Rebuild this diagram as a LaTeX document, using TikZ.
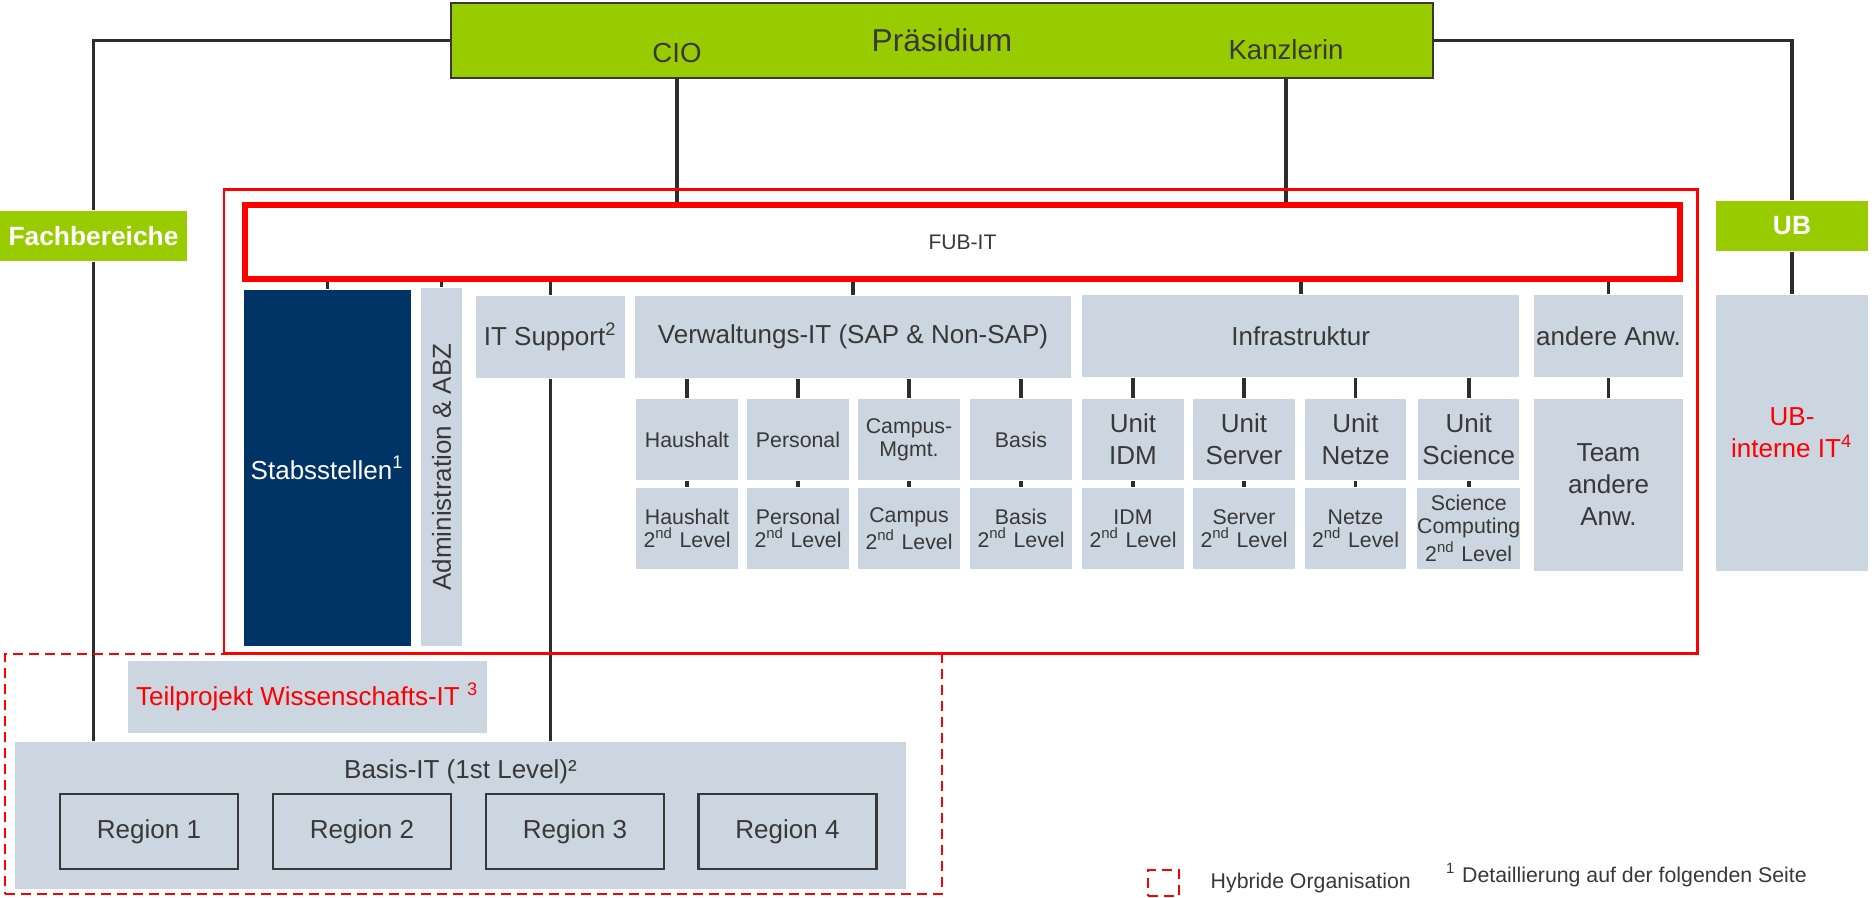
\documentclass[tikz,border=0pt]{standalone}
\usepackage{fontspec}
\setmainfont{Liberation Sans}
\usetikzlibrary{backgrounds}

\definecolor{fugreen}{RGB}{153,204,0}
\definecolor{funavy}{RGB}{0,51,102}
\definecolor{fugray}{RGB}{204,214,224}
\definecolor{futext}{RGB}{56,56,56}
\definecolor{fuline}{RGB}{45,45,45}

\begin{document}
\begin{tikzpicture}
    \tikzstyle{edge}=[draw=fuline,line width=1.1pt,-]
    \tikzstyle{box}=[rectangle,fill=fugray,text=futext,inner sep=0pt,align=center,font=\fontsize{7.4}{9.1}\selectfont]
    \tikzstyle{subbox}=[box,minimum width=1.015cm,minimum height=0.81cm,font=\fontsize{6.06}{6.6}\selectfont]
    \tikzstyle{unitbox}=[box,minimum width=1.015cm,minimum height=0.81cm]
    \tikzstyle{greenbox}=[rectangle,fill=fugreen,text=white,inner sep=0pt,font=\fontsize{7.5}{9}\selectfont\bfseries]
    \tikzstyle{regionbox}=[box,draw=futext,line width=0.6pt,minimum width=1.78cm,minimum height=0.75cm]
    \tikzstyle{redframe}=[rectangle,draw=red,inner sep=0pt]
    \tikzstyle{hybridframe}=[redframe,line width=0.6pt,dash pattern=on 0.1cm off 0.06cm]
    \tikzstyle{label}=[inner sep=0pt,text=futext,font=\fontsize{6.06}{7}\selectfont]

    \useasboundingbox (0,0) rectangle (18.74,-8.97);

    % top level
    \node[greenbox,draw=futext,line width=0.5pt,text=futext,font=\fontsize{9}{11}\selectfont,
          minimum width=9.82cm,minimum height=0.75cm] (pres) at (9.42,-0.405) {Präsidium};
    \node[anchor=base,inner sep=0pt,text=futext,font=\fontsize{7.85}{9}\selectfont] (cio)  at (6.77,-0.62) {CIO};
    \node[anchor=base,inner sep=0pt,text=futext,font=\fontsize{7.85}{9}\selectfont] (kanz) at (12.86,-0.59) {Kanzlerin};

    \node[greenbox,minimum width=1.87cm,minimum height=0.5cm] (fach) at (0.935,-2.36) {Fachbereiche};
    \node[greenbox,minimum width=1.52cm,minimum height=0.5cm] (ub)   at (17.92,-2.26) {UB};

    % FUB-IT
    \node[redframe,line width=0.85pt,minimum width=14.73cm,minimum height=4.64cm] (fubframe) at (9.605,-4.21) {};
    \node[redframe,line width=1.55pt,minimum width=14.35cm,minimum height=0.74cm,
          text=futext,font=\fontsize{6}{7}\selectfont] (fubit) at (9.625,-2.42) {FUB-IT};

    \node[box,fill=funavy,text=white,minimum width=1.67cm,minimum height=3.56cm] (stab) at (3.275,-4.68) {Stabsstellen\textsuperscript{1}};
    \node[box,rotate=90,minimum width=3.58cm,minimum height=0.41cm] (admin) at (4.415,-4.67) {Administration \& ABZ};
    \node[box,minimum width=1.49cm,minimum height=0.82cm]  (itsup)  at (5.505,-3.37) {IT Support\textsuperscript{2}};
    \node[box,minimum width=4.36cm,minimum height=0.82cm]  (verw)   at (8.53,-3.37)  {Verwaltungs-IT (SAP \& Non-SAP)};
    \node[box,minimum width=4.375cm,minimum height=0.82cm] (infra)  at (13.007,-3.36) {Infrastruktur};
    \node[box,minimum width=1.49cm,minimum height=0.82cm]  (andere) at (16.085,-3.36) {andere Anw.};
    \node[box,minimum width=1.49cm,minimum height=1.72cm]  (team)   at (16.085,-4.85) {Team\\andere\\Anw.};
    \node[box,text=red,minimum width=1.52cm,minimum height=2.76cm] (ubint) at (17.92,-4.33) {UB-\\interne IT\textsuperscript{4}};

    \node[subbox]  (haus)   at (6.87,-4.395)  {Haushalt};
    \node[subbox]  (pers)   at (7.98,-4.395)  {Personal};
    \node[subbox]  (camp)   at (9.09,-4.395)  {Campus-\\Mgmt.};
    \node[subbox]  (basis)  at (10.21,-4.395) {Basis};
    \node[unitbox] (idm)    at (11.33,-4.395) {Unit\\IDM};
    \node[unitbox] (server) at (12.44,-4.395) {Unit\\Server};
    \node[unitbox] (netze)  at (13.555,-4.395) {Unit\\Netze};
    \node[unitbox] (sci)    at (14.687,-4.395) {Unit\\Science};

    \node[subbox] (haus2)   at (6.87,-5.285)  {Haushalt\\2\textsuperscript{nd} Level};
    \node[subbox] (pers2)   at (7.98,-5.285)  {Personal\\2\textsuperscript{nd} Level};
    \node[subbox] (camp2)   at (9.09,-5.285)  {Campus\\2\textsuperscript{nd} Level};
    \node[subbox] (basis2)  at (10.21,-5.285) {Basis\\2\textsuperscript{nd} Level};
    \node[subbox] (idm2)    at (11.33,-5.285) {IDM\\2\textsuperscript{nd} Level};
    \node[subbox] (server2) at (12.44,-5.285) {Server\\2\textsuperscript{nd} Level};
    \node[subbox] (netze2)  at (13.555,-5.285) {Netze\\2\textsuperscript{nd} Level};
    \node[subbox] (sci2)    at (14.687,-5.285) {Science\\Computing\\2\textsuperscript{nd} Level};

    % Basis-IT
    \node[hybridframe,minimum width=9.37cm,minimum height=2.40cm] (hybrid) at (4.735,-7.74) {};
    \node[box,text=red,minimum width=3.59cm,minimum height=0.72cm] (teil) at (3.075,-6.97) {Teilprojekt Wissenschafts-IT \textsuperscript{3}};
    \node[box,minimum width=8.91cm,minimum height=1.47cm] (basisit) at (4.605,-8.155) {};
    \node[anchor=base,inner sep=0pt,text=futext,font=\fontsize{7.4}{9.1}\selectfont] (basislabel) at (4.605,-7.78) {Basis-IT (1st Level)²};

    \node[regionbox] (reg1) at (1.49,-8.315)  {Region 1};
    \node[regionbox] (reg2) at (3.62,-8.315)  {Region 2};
    \node[regionbox] (reg3) at (5.75,-8.315)  {Region 3};
    \node[regionbox] (reg4) at (7.875,-8.315) {Region 4};

    % legend
    \node[hybridframe,minimum width=0.31cm,minimum height=0.26cm] (legbox) at (11.635,-8.83) {};
    \node[label,anchor=base west] (legtext) at (12.10,-8.88) {Hybride Organisation};
    \node[label,anchor=base west] (note) at (14.455,-8.82) {\textsuperscript{1} Detaillierung auf der folgenden Seite};

    \begin{scope}[on background layer]
        \path[edge] (pres.west) -| (fach.north);
        \path[edge] (fach.south) -- (fach.south |- basisit.north);
        \path[edge] (pres.east) -| (ub.north);
        \path[edge] (ub.south) -- (ubint.north);

        \path[edge] (cio |- pres.south) -- (cio |- fubit.north);
        \path[edge] (kanz |- pres.south) -- (kanz |- fubit.north);

        \path[edge] (stab.north |- fubit.south) -- (stab.north);
        \path[edge] (admin |- fubit.south) -- (admin.east);
        \path[edge] (itsup.north |- fubit.south) -- (itsup.north);
        \path[edge] (verw.north |- fubit.south) -- (verw.north);
        \path[edge] (infra.north |- fubit.south) -- (infra.north);
        \path[edge] (andere.north |- fubit.south) -- (andere.north);
        \path[edge] (andere.south) -- (team.north);
        \path[edge] (itsup.south) -- (itsup.south |- basisit.north);

        \path[edge] (haus.north |- verw.south) -- (haus.north);
        \path[edge] (pers.north |- verw.south) -- (pers.north);
        \path[edge] (camp.north |- verw.south) -- (camp.north);
        \path[edge] (basis.north |- verw.south) -- (basis.north);
        \path[edge] (idm.north |- infra.south) -- (idm.north);
        \path[edge] (server.north |- infra.south) -- (server.north);
        \path[edge] (netze.north |- infra.south) -- (netze.north);
        \path[edge] (sci.north |- infra.south) -- (sci.north);

        \path[edge] (haus.south) -- (haus2.north);
        \path[edge] (pers.south) -- (pers2.north);
        \path[edge] (camp.south) -- (camp2.north);
        \path[edge] (basis.south) -- (basis2.north);
        \path[edge] (idm.south) -- (idm2.north);
        \path[edge] (server.south) -- (server2.north);
        \path[edge] (netze.south) -- (netze2.north);
        \path[edge] (sci.south) -- (sci2.north);
    \end{scope}
\end{tikzpicture}
\end{document}
